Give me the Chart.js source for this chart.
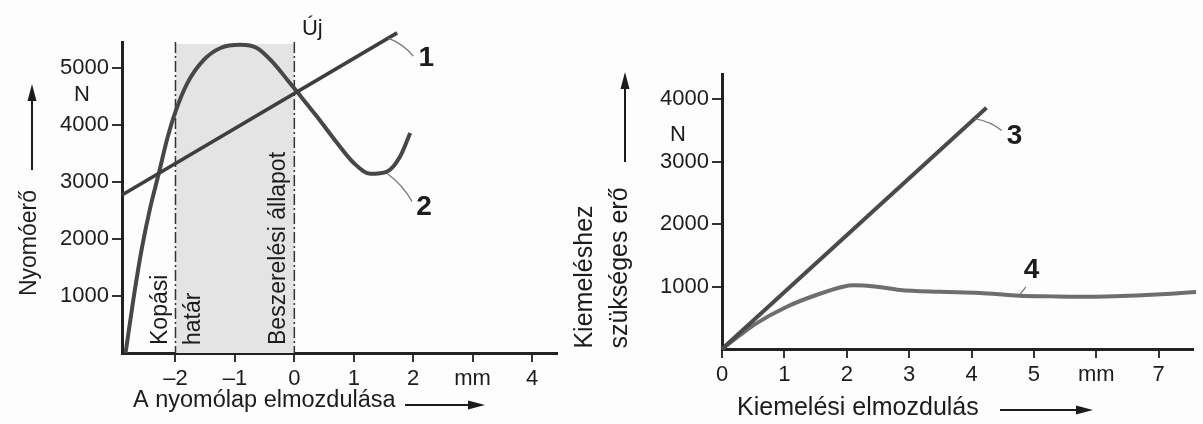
<!DOCTYPE html>
<html>
<head>
<meta charset="utf-8">
<script src="https://cdn.jsdelivr.net/npm/chart.js@4.4.1/dist/chart.umd.min.js"></script>
<style>
  html, body { margin: 0; padding: 0; background: #fdfdfd; }
  #wrap { position: relative; width: 1203px; height: 424px; overflow: hidden; }
  canvas { position: absolute; top: 0; }
  #left { left: 0; }
  #right { left: 570px; }
</style>
</head>
<body>
<div id="wrap">
  <canvas id="left" width="570" height="424"></canvas>
  <canvas id="right" width="633" height="424"></canvas>
</div>
<script>
// left chart: nyomóerő vs. nyomólap elmozdulása
const line1X = [-2.9, 1.73]
const line1Y = [2770, 5610]
const curve2X = [-2.84, -2.7, -2.56, -2.42, -2.28, -2.14, -2.0, -1.8, -1.52, -1.24, -0.91, -0.63, -0.35, -0.12, 0.04, 0.38, 0.72, 1.0, 1.28, 1.56, 1.78, 1.95]
const curve2Y = [0, 1000, 1870, 2570, 3150, 3750, 4230, 4730, 5140, 5345, 5400, 5345, 5080, 4790, 4585, 4145, 3680, 3330, 3140, 3180, 3445, 3855]
const leftXTicks = [-2, -1, 0, 1, 2, 3, 4]
const leftXLabels = ['–2', '–1', '0', '1', '2', 'mm', '4']
const leftYTicks = [1000, 2000, 3000, 4000, 5000]

// right chart: kiemeléshez szükséges erő
const line3X = [0, 4.24]
const line3Y = [0, 3860]
const curve4X = [0, 0.3, 0.55, 1.04, 1.51, 1.94, 2.1, 2.48, 2.85, 3.5, 4.13, 4.77, 5.3, 5.73, 6.3, 6.8, 7.2, 7.6]
const curve4Y = [0, 230, 410, 677, 864, 997, 1020, 997, 944, 915, 896, 853, 842, 837, 845, 864, 885, 912]
const rightXTicks = [0, 1, 2, 3, 4, 5, 6, 7]
const rightXLabels = ['0', '1', '2', '3', '4', '5', 'mm', '7']
const rightYTicks = [1000, 2000, 3000, 4000]

const FONT = "'Liberation Sans', Arial, sans-serif"
const INK = '#1c1c1c'

Chart.defaults.font.family = FONT
Chart.defaults.color = INK

const toPoints = (xs, ys) => xs.map((x, i) => ({ x: x, y: ys[i] }))

const makeScales = (xr, xTicks, xLabels, yr, yTicks, yWidth, xHeight) => ({
	x: {
		type: 'linear', min: xr[0], max: xr[1],
		afterBuildTicks: s => { s.ticks = xTicks.map(v => ({ value: v })) },
		afterFit: s => { s.height = xHeight },
		ticks: { autoSkip: false, maxRotation: 0, padding: 4, font: { size: 22 }, color: INK,
			callback: (v, i) => xLabels[i] },
		grid: { drawOnChartArea: false, drawTicks: true, tickLength: 9, color: '#333', lineWidth: 2 },
		border: { display: true, color: '#222', width: 3 }
	},
	y: {
		type: 'linear', min: yr[0], max: yr[1],
		afterBuildTicks: s => { s.ticks = yTicks.map(v => ({ value: v })) },
		afterFit: s => { s.width = yWidth },
		ticks: { autoSkip: false, padding: 3, font: { size: 22 }, color: INK,
			callback: v => String(v) },
		grid: { drawOnChartArea: false, drawTicks: true, tickLength: 10, color: '#333', lineWidth: 2 },
		border: { display: true, color: '#222', width: 3 }
	}
})

const text = (ctx, str, x, y, size, opts = {}) => {
	ctx.save()
	ctx.font = (opts.bold ? 'bold ' : '') + size + 'px ' + FONT
	ctx.fillStyle = INK
	ctx.textAlign = opts.align || 'center'
	ctx.textBaseline = 'middle'
	ctx.translate(x, y)
	if (opts.rotate) ctx.rotate(-Math.PI / 2)
	ctx.fillText(str, 0, 0)
	ctx.restore()
}

const arrow = (ctx, x1, y1, x2, y2) => {
	const a = Math.atan2(y2 - y1, x2 - x1)
	ctx.save()
	ctx.strokeStyle = INK
	ctx.fillStyle = INK
	ctx.lineWidth = 2
	ctx.beginPath()
	ctx.moveTo(x1, y1)
	ctx.lineTo(x2 - 12 * Math.cos(a), y2 - 12 * Math.sin(a))
	ctx.stroke()
	ctx.translate(x2, y2)
	ctx.rotate(a)
	ctx.beginPath()
	ctx.moveTo(0, 0)
	ctx.lineTo(-17, -4.5)
	ctx.lineTo(-17, 4.5)
	ctx.closePath()
	ctx.fill()
	ctx.restore()
}

const leader = (ctx, x1, y1, x2, y2) => {
	ctx.save()
	ctx.strokeStyle = '#777'
	ctx.lineWidth = 1.3
	ctx.beginPath()
	ctx.moveTo(x1, y1)
	ctx.quadraticCurveTo((x1 + x2) / 2 + 3, (y1 + y2) / 2 - 3, x2, y2)
	ctx.stroke()
	ctx.restore()
}

//shaded band and dash-dot lines of the left chart
const leftBand = {
	id: 'leftBand',
	beforeDatasetsDraw(chart) {
		const { ctx, chartArea: a, scales: { x } } = chart
		const x0 = x.getPixelForValue(-2), x1 = x.getPixelForValue(0)
		ctx.save()
		ctx.fillStyle = '#e4e4e4'
		ctx.fillRect(x0, a.top + 2, x1 - x0, a.bottom - a.top - 2)
		ctx.strokeStyle = '#333'
		ctx.lineWidth = 1.5
		ctx.setLineDash([11, 3, 2, 3])
		;[x0, x1].forEach(px => {
			ctx.beginPath()
			ctx.moveTo(px, a.top)
			ctx.lineTo(px, a.bottom)
			ctx.stroke()
		})
		ctx.restore()
	},
	afterDraw(chart) {
		const { ctx, scales: { x, y } } = chart
		const x0 = x.getPixelForValue(-2), x1 = x.getPixelForValue(0)
		text(ctx, 'Kopási', x0 - 15, 345, 23, { rotate: true, align: 'left' })
		text(ctx, 'határ', x0 + 18, 345, 23, { rotate: true, align: 'left' })
		text(ctx, 'Beszerelési állapot', x1 - 16, 345, 23, { rotate: true, align: 'left' })
		text(ctx, 'Új', x1 + 18, 29, 22)

		text(ctx, 'Nyomóerő', 30, 243, 23, { rotate: true })
		arrow(ctx, 32, 170, 32, 84)
		text(ctx, 'N', 82, 95, 22)
		text(ctx, 'A nyomólap elmozdulása', 133, 401, 23.5, { align: 'left' })
		arrow(ctx, 405, 405, 485, 405)

		// curve labels
		const l1x = x.getPixelForValue(1.58)
		const l1y = y.getPixelForValue(line1Y[0] + (line1Y[1] - line1Y[0]) * (1.58 - line1X[0]) / (line1X[1] - line1X[0]))
		leader(ctx, l1x, l1y, l1x + 25, l1y + 18)
		text(ctx, '1', l1x + 38, l1y + 20, 28, { bold: true })
		const l2x = x.getPixelForValue(1.56), l2y = y.getPixelForValue(3180)
		leader(ctx, l2x, l2y + 2, l2x + 25, l2y + 30)
		text(ctx, '2', l2x + 37, l2y + 36, 28, { bold: true })
	}
}

const rightDecor = {
	id: 'rightDecor',
	afterDraw(chart) {
		const { ctx, scales: { x, y } } = chart
		const ox = 570
		text(ctx, 'Kiemeléshez', 585 - ox, 277, 25, { rotate: true })
		text(ctx, 'szükséges erő', 620 - ox, 268, 25, { rotate: true })
		arrow(ctx, 625 - ox, 162, 625 - ox, 72)
		text(ctx, 'N', 678 - ox, 135, 22)
		text(ctx, 'Kiemelési elmozdulás', 737 - ox, 408, 25, { align: 'left' })
		arrow(ctx, 1000 - ox, 410, 1093 - ox, 410)

		const l3x = x.getPixelForValue(4.05)
		const l3y = y.getPixelForValue(line3Y[1] * 4.05 / line3X[1])
		leader(ctx, l3x, l3y, l3x + 27, l3y + 12)
		text(ctx, '3', l3x + 40, l3y + 18, 28, { bold: true })
		const l4x = x.getPixelForValue(4.77), l4y = y.getPixelForValue(853)
		leader(ctx, l4x, l4y - 1, l4x + 6, l4y - 9)
		text(ctx, '4', l4x + 12, l4y - 25, 28, { bold: true })
	}
}

const lineSet = (pts, color, width) => ({
	data: pts, borderColor: color, borderWidth: width, pointRadius: 0,
	cubicInterpolationMode: 'monotone', fill: false, clip: false
})

const baseOptions = (scales, padding) => ({
	responsive: false, animation: false, devicePixelRatio: 1,
	layout: { padding: padding },
	plugins: { legend: { display: false }, tooltip: { enabled: false } },
	scales: scales
})

new Chart(document.getElementById('left'), {
	type: 'line',
	data: {
		datasets: [
			lineSet(toPoints(line1X, line1Y), '#3e3e3e', 3.5),
			lineSet(toPoints(curve2X, curve2Y), '#474747', 4)
		]
	},
	options: baseOptions(makeScales([-2.9, 4.42], leftXTicks, leftXLabels, [0, 5450], leftYTicks, 122, 71),
		{ left: 0, right: 13, top: 42, bottom: 0 }),
	plugins: [leftBand]
})

new Chart(document.getElementById('right'), {
	type: 'line',
	data: {
		datasets: [
			lineSet(toPoints(line3X, line3Y), '#4a4a4a', 4),
			lineSet(toPoints(curve4X, curve4Y), '#6e6e6e', 4)
		]
	},
	options: baseOptions(makeScales([0, 7.55], rightXTicks, rightXLabels, [0, 4400], rightYTicks, 152, 75),
		{ left: 0, right: 10, top: 74, bottom: 0 }),
	plugins: [rightDecor]
})
</script>
</body>
</html>
